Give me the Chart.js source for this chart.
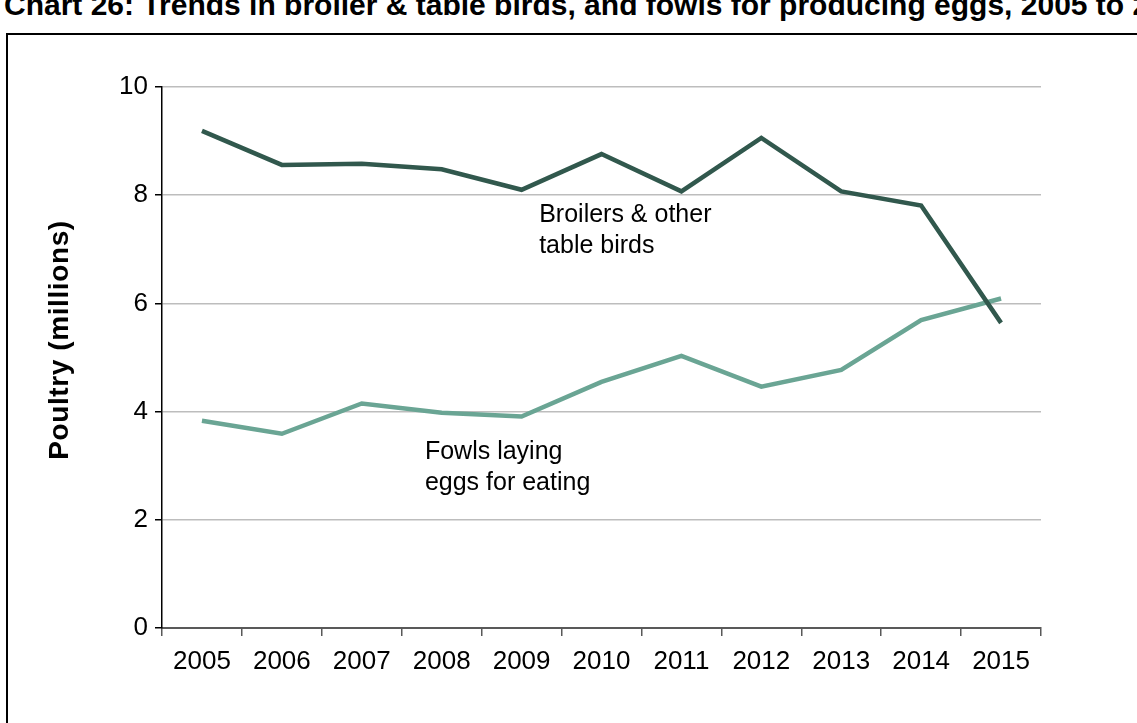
<!DOCTYPE html>
<html>
<head>
<meta charset="utf-8">
<script src="https://cdn.jsdelivr.net/npm/chart.js@4.4.1/dist/chart.umd.min.js"></script>
<style>
  html, body { margin: 0; padding: 0; background: #fff; overflow: hidden; }
  body { width: 1137px; height: 723px; position: relative; }
  #heading {
    position: absolute; left: 4px; top: -10px;
    font: bold 30px "Liberation Sans", Arial, sans-serif;
    line-height: 30px; white-space: nowrap; color: #000;
  }
  #frame {
    position: absolute; left: 6px; top: 33px;
    width: 1200px; height: 800px;
    border: 2px solid #000;
  }
  #wrap { position: absolute; left: 8px; top: 36px; width: 1129px; height: 687px; }
</style>
</head>
<body>
<div id="heading">Chart 26: Trends in broiler &amp; table birds, and fowls for producing eggs, 2005 to 2015</div>
<div id="frame"></div>
<div id="wrap"><canvas id="poultryChart" width="1129" height="687"></canvas></div>

<script>
// poultry numbers, millions
const years = ['2005','2006','2007','2008','2009','2010','2011','2012','2013','2014','2015'];
const broilers = [9.19, 8.56, 8.58, 8.48, 8.10, 8.76, 8.07, 9.06, 8.07, 7.81, 5.64];
const layers   = [3.83, 3.59, 4.15, 3.98, 3.91, 4.55, 5.03, 4.46, 4.77, 5.69, 6.09];
const yTicks = [0, 2, 4, 6, 8, 10];

const FONT = '"Liberation Sans", Arial, sans-serif';

// in-chart line labels, anchored in data units
const notes = [
  { lines: ['Broilers & other', 'table birds'], x: 4.22, y: 7.51 },
  { lines: ['Fowls laying', 'eggs for eating'], x: 2.79, y: 3.12 }
];

const labelPlugin = {
  id: 'labels',
  afterDraw(chart) {
    const ctx = chart.ctx;
    const xs = chart.scales.x, ys = chart.scales.y;
    ctx.save();
    ctx.fillStyle = '#000';
    ctx.font = '25px ' + FONT;
    ctx.textAlign = 'left';
    ctx.textBaseline = 'alphabetic';
    notes.forEach(n => {
      const px = xs.getPixelForValue(n.x);
      const py = ys.getPixelForValue(n.y);
      n.lines.forEach((t, i) => ctx.fillText(t, px, py + i * 31));
    });
    // y axis title
    ctx.translate(52, 304);
    ctx.rotate(-Math.PI / 2);
    ctx.font = 'bold 28px ' + FONT;
    ctx.letterSpacing = '0.6px';
    ctx.textAlign = 'center';
    ctx.textBaseline = 'middle';
    ctx.fillText('Poultry (millions)', 0, 0);
    ctx.restore();
  }
};

new Chart(document.getElementById('poultryChart'), {
  type: 'line',
  data: {
    labels: years,
    datasets: [{
      label: 'Broilers & other table birds',
      data: broilers,
      borderColor: '#31584d',
      borderWidth: 4.5,
      pointRadius: 0,
      tension: 0
    }, {
      label: 'Fowls laying eggs for eating',
      data: layers,
      borderColor: '#6aa594',
      borderWidth: 4.5,
      pointRadius: 0,
      tension: 0
    }]
  },
  plugins: [labelPlugin],
  options: {
    responsive: false,
    animation: false,
    layout: { padding: { top: 51, right: 96, left: 0, bottom: 0 } },
    plugins: { legend: { display: false }, tooltip: { enabled: false } },
    scales: {
      x: {
        offset: true,
        grid: { offset: true, drawOnChartArea: false, drawTicks: true, tickLength: 8, color: '#595959', lineWidth: 1.5 },
        border: { color: '#595959', width: 2 },
        ticks: { color: '#000', font: { family: FONT, size: 26 }, padding: 10, maxRotation: 0 },
        afterFit(s) { s.height = 95; }
      },
      y: {
        min: 0, max: 10,
        afterBuildTicks(s) { s.ticks = yTicks.map(v => ({ value: v })); },
        grid: { color: '#bdbdbd', lineWidth: 1.5, tickLength: 7, tickColor: '#000' },
        border: { color: '#000', width: 1.5 },
        ticks: { color: '#000', font: { family: FONT, size: 26 }, padding: 7 },
        afterFit(s) { s.width = 154; }
      }
    }
  }
});
</script>
</body>
</html>
